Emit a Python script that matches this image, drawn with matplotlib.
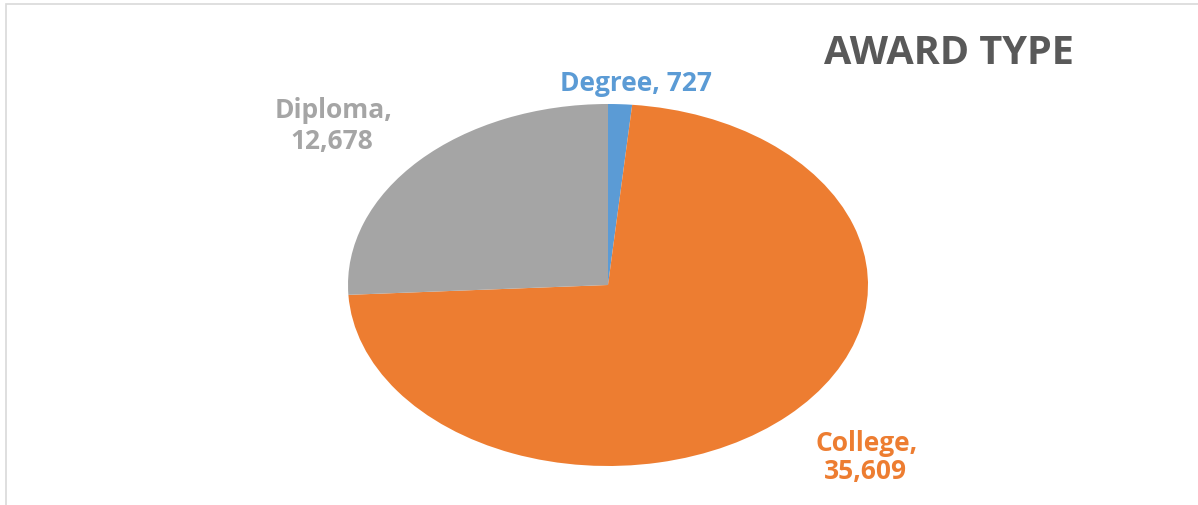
import matplotlib
matplotlib.use("Agg")
import matplotlib.pyplot as plt
from matplotlib.patches import Rectangle

categories = ["Degree", "College", "Diploma"]
values = [727, 35609, 12678]
value_labels = ["727", "35,609", "12,678"]
colors = ["#5B9BD5", "#ED7D31", "#A5A5A5"]
title = "AWARD TYPE"

W, H = 1198, 506
fig = plt.figure(figsize=(W / 100, H / 100), dpi=100)
fig.patch.set_facecolor("white")

# light chart border (top/left visible)
fig.add_artist(Rectangle((6 / W, -0.02), 1.1, (H - 5) / H + 0.02,
                         transform=fig.transFigure, fill=False,
                         edgecolor="#D9D9D9", linewidth=1.2))

# pie axes: ellipse spanning x 348..868, y 105..467 (pixels)
left, right, top, bottom = 348, 868, 105, 467
ax = fig.add_axes([left / W, (H - bottom) / H, (right - left) / W, (bottom - top) / H])
ax.pie(values, colors=colors, startangle=90, counterclock=False,
       radius=1, wedgeprops=dict(linewidth=0))
ax.set_aspect("auto")
ax.set_xlim(-1, 1)
ax.set_ylim(-1, 1)
ax.axis("off")

font = "Open Sans"

def ftext(x, y, s, color, size, ha="center"):
    fig.text(x / W, (H - y) / H, s, color=color, fontsize=size, fontweight="bold",
             family=font, ha=ha, va="baseline")

# data labels
ftext(636, 91, f"{categories[0]}, {value_labels[0]}", colors[0], 19)
ftext(334, 118, f"{categories[2]},", colors[2], 19)
ftext(332, 149, value_labels[2], colors[2], 19)
ftext(867, 451, f"{categories[1]},", colors[1], 19)
ftext(865, 479, value_labels[1], colors[1], 19)

# title
ftext(949, 64, title, "#595959", 28.5)

fig.savefig("out.png", dpi=100)
